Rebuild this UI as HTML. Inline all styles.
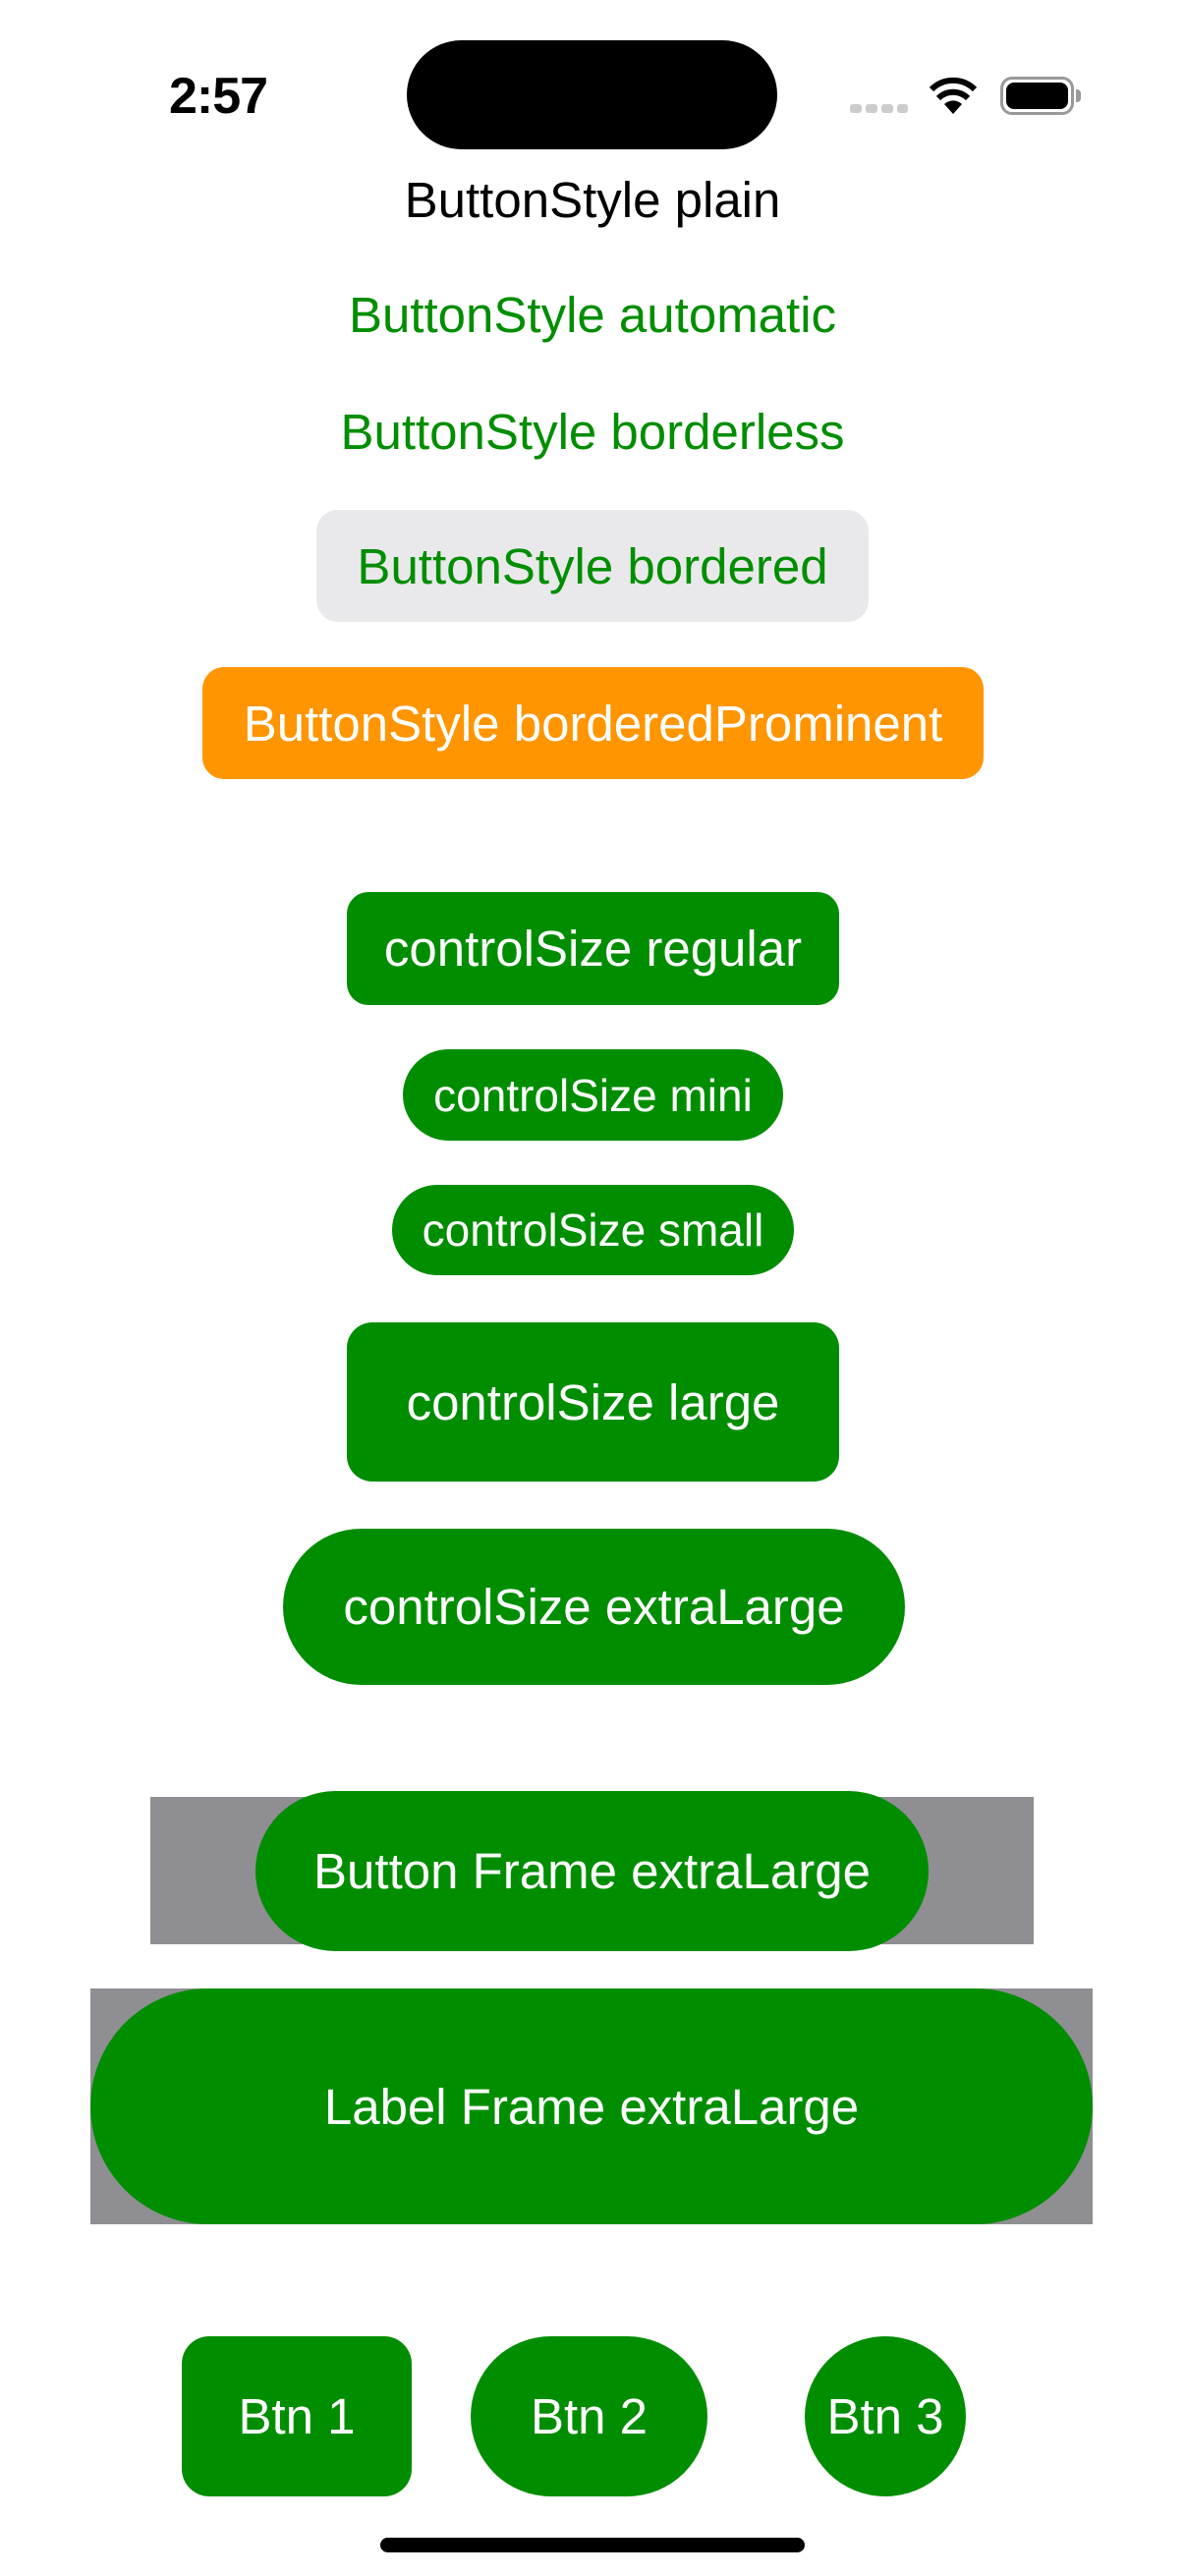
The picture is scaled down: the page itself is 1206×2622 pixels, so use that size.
<!DOCTYPE html>
<html><head><meta charset="utf-8"><style>
html,body{margin:0;padding:0;background:#fff;}
body{width:1206px;height:2622px;position:relative;overflow:hidden;font-family:"Liberation Sans",sans-serif;}
.a{position:absolute;box-sizing:border-box;display:flex;align-items:center;justify-content:center;white-space:nowrap;}
.g{background:#008e00;color:#fff;}
.t{font-size:51px;}
.s{font-size:46px;}
.gray{position:absolute;background:#8e8e93;}
</style></head><body>
<div class="a" style="left:160px;top:70px;width:124px;height:56px;font-size:52px;font-weight:bold;color:#000;letter-spacing:-1px;">2:57</div>
<div style="position:absolute;left:414px;top:41px;width:377px;height:111px;border-radius:56px;background:#000;"></div>
<div style="position:absolute;left:865px;top:106px;width:12px;height:9px;border-radius:3px;background:#ccc;"></div>
<div style="position:absolute;left:881px;top:106px;width:12px;height:9px;border-radius:3px;background:#ccc;"></div>
<div style="position:absolute;left:897px;top:106px;width:12px;height:9px;border-radius:3px;background:#ccc;"></div>
<div style="position:absolute;left:913px;top:106px;width:11px;height:9px;border-radius:3px;background:#ccc;"></div>
<svg style="position:absolute;left:945px;top:78px" width="50" height="38" viewBox="0 0 50 38">
<path d="M25 38 L16 28 A13 13 0 0 1 34 28 Z" fill="#000"/>
<path d="M10 22 A21 21 0 0 1 40 22" stroke="#000" stroke-width="6" fill="none"/>
<path d="M3 13 A31 31 0 0 1 47 13" stroke="#000" stroke-width="6" fill="none"/>
</svg>
<div style="position:absolute;left:1018px;top:78px;width:75px;height:39px;border:3px solid #999;border-radius:12px;box-sizing:border-box;"></div>
<div style="position:absolute;left:1024px;top:84px;width:63px;height:27px;border-radius:8px;background:#000;"></div>
<div style="position:absolute;left:1095px;top:91px;width:5px;height:13px;border-radius:0 4px 4px 0;background:#999;"></div>

<div class="a t" style="left:0;top:173px;width:1206px;height:60px;color:#000;">ButtonStyle plain</div>
<div class="a t" style="left:0;top:290px;width:1206px;height:60px;color:#008e00;">ButtonStyle automatic</div>
<div class="a t" style="left:0;top:409px;width:1206px;height:60px;color:#008e00;">ButtonStyle borderless</div>
<div class="a t" style="left:322px;top:519px;width:562px;height:114px;background:#e9e9eb;border-radius:22px;color:#008e00;">ButtonStyle bordered</div>
<div class="a t" style="left:206px;top:679px;width:795px;height:114px;background:#ff9500;border-radius:22px;color:#fff;">ButtonStyle borderedProminent</div>

<div class="a t g" style="left:353px;top:908px;width:501px;height:115px;border-radius:22px;">controlSize regular</div>
<div class="a s g" style="left:410px;top:1068px;width:387px;height:93px;border-radius:47px;">controlSize mini</div>
<div class="a s g" style="left:399px;top:1206px;width:409px;height:92px;border-radius:46px;">controlSize small</div>
<div class="a t g" style="left:353px;top:1346px;width:501px;height:162px;border-radius:26px;">controlSize large</div>
<div class="a t g" style="left:288px;top:1556px;width:633px;height:159px;border-radius:80px;">controlSize extraLarge</div>

<div class="gray" style="left:153px;top:1829px;width:899px;height:150px;"></div>
<div class="a t g" style="left:260px;top:1823px;width:685px;height:163px;border-radius:82px;">Button Frame extraLarge</div>
<div class="gray" style="left:92px;top:2024px;width:1020px;height:240px;"></div>
<div class="a t g" style="left:92px;top:2024px;width:1020px;height:240px;border-radius:120px;">Label Frame extraLarge</div>

<div class="a t g" style="left:185px;top:2378px;width:234px;height:163px;border-radius:28px;">Btn 1</div>
<div class="a t g" style="left:479px;top:2378px;width:241px;height:163px;border-radius:82px;">Btn 2</div>
<div class="a t g" style="left:819px;top:2378px;width:164px;height:163px;border-radius:50%;">Btn 3</div>
<div style="position:absolute;left:387px;top:2583px;width:432px;height:15px;border-radius:8px;background:#000;"></div>
</body></html>
